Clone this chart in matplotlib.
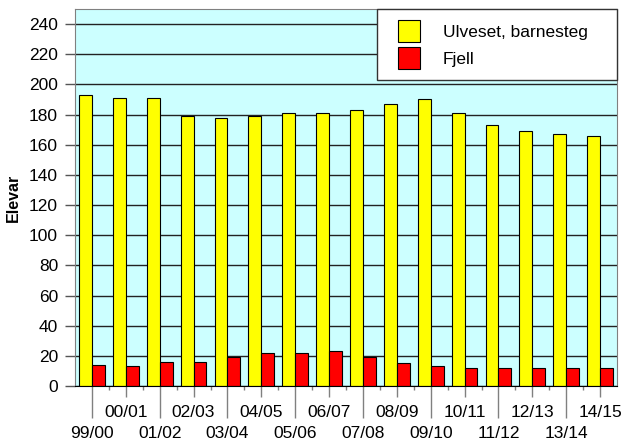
import matplotlib
matplotlib.use("Agg")
import matplotlib.pyplot as plt
import numpy as np
from matplotlib.container import BarContainer
from matplotlib.legend_handler import HandlerPatch, update_from_first_child

seasons = ["99/00", "00/01", "01/02", "02/03", "03/04", "04/05", "05/06", "06/07",
           "07/08", "08/09", "09/10", "10/11", "11/12", "12/13", "13/14", "14/15"]
ulveset = [193, 191, 191, 179, 178, 179, 181, 181, 183, 187, 190, 181, 173, 169, 167, 166]
fjell = [14, 13, 16, 16, 19, 22, 22, 23, 19, 15, 13, 12, 12, 12, 12, 12]

plt.rcParams["font.family"] = ["Liberation Sans", "DejaVu Sans"]

fig = plt.figure(figsize=(6.24, 4.44), dpi=100)
ax = fig.add_axes([75 / 624, 1 - 386 / 444, 542 / 624, 377 / 444])

x = np.arange(len(seasons))
w = 0.38
ax.bar(x - w / 2, ulveset, w, color="#ffff00", edgecolor="black", linewidth=0.8,
       label="Ulveset, barnesteg")
ax.bar(x + w / 2, fjell, w, color="#ff0000", edgecolor="black", linewidth=0.8,
       label="Fjell")

ax.set_facecolor("#ccffff")
ax.set_xlim(-0.5, len(seasons) - 0.5)
ax.set_ylim(0, 250)
ax.set_yticks(range(0, 241, 20))
ax.yaxis.grid(True, color="#222222", linewidth=1)
ax.set_axisbelow(True)
ax.tick_params(axis="y", length=7.2, width=1, color="#555555", labelsize=12.5, pad=5)

# staggered season labels: even ones low with long ticks, odd ones high
ax.set_xticks(x[::2], seasons[::2])
ax.set_xticks(x[1::2], seasons[1::2], minor=True)
ax.tick_params(axis="x", which="major", length=23, width=1, color="#808080",
               labelsize=12.5, pad=6)
ax.tick_params(axis="x", which="minor", length=8, width=1, color="#808080",
               labelsize=12.5, pad=6)

# small ticks at category boundaries
sec = ax.secondary_xaxis("bottom")
sec.set_xticks(x[:-1] + 0.5)
sec.tick_params(length=3, width=1, color="#808080", labelbottom=False)
sec.spines["bottom"].set_visible(False)

for side in ["top", "right", "left"]:
    ax.spines[side].set_color("#808080")
ax.spines["bottom"].set_color("black")

ax.set_ylabel("Elevar", fontsize=11.5, fontweight="bold", labelpad=6)

fs_px = 12.5 * 100 / 72
pad = 11
# xpad pushes the legend square to the right inside its box
handler = HandlerPatch(xpad=(21 - pad) / fs_px, update_func=update_from_first_child)
ax.legend(loc="upper left", bbox_to_anchor=(0.557, 0.5, 0.443, 0.5), mode="expand",
          borderaxespad=0, fontsize=12.5, fancybox=False, framealpha=1,
          edgecolor="#333333", borderpad=pad / fs_px, labelspacing=5 / fs_px,
          handlelength=(21 - pad + 22) / fs_px, handleheight=1.572,
          handletextpad=23 / fs_px,
          handler_map={BarContainer: handler})
ax.get_legend().get_frame().set_linewidth(1)

fig.savefig("out.png", dpi=100)
